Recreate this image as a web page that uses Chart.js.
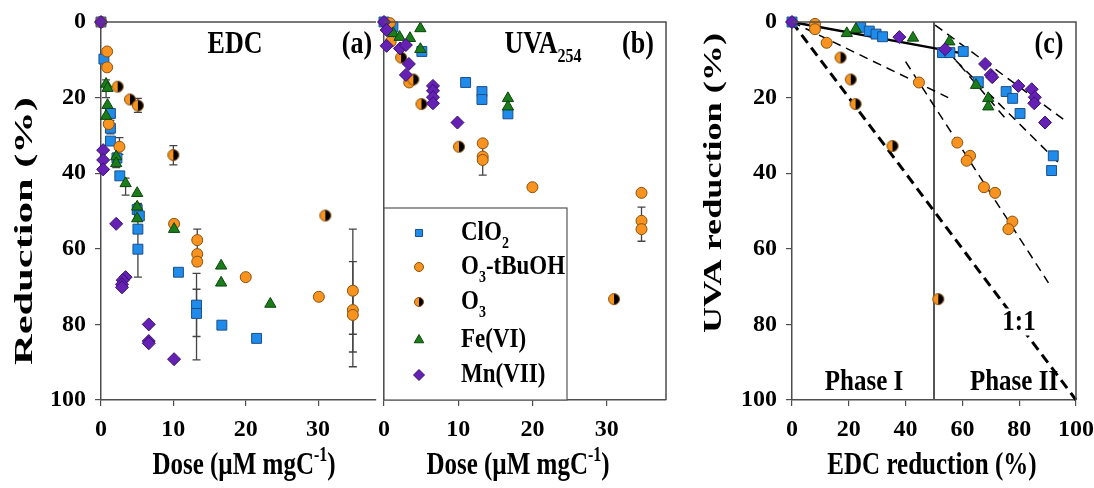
<!DOCTYPE html>
<html>
<head>
<meta charset="utf-8">
<script src="https://cdn.jsdelivr.net/npm/chart.js@4.4.0/dist/chart.umd.min.js"></script>
<style>
body{margin:0;background:#fff;}
#wrap{position:relative;width:1094px;height:488px;overflow:hidden;background:#fff;}
canvas{position:absolute;top:0;}
</style>
</head>
<body>
<div id="wrap">
	<canvas id="pa" width="384" height="488" style="left:0"></canvas>
	<canvas id="pb" width="300" height="488" style="left:374px"></canvas>
	<canvas id="pc" width="394" height="488" style="left:700px"></canvas>
</div>
<script>
'use strict';

// panel (a): EDC reduction vs dose
const aClO2 = [[0,0],[0.4,9.8],[1.3,24.2],[1.3,28.1],[1.3,31.5],[2.2,36],[2.6,40.7],[5.0,49.6],[5.3,51.3],[5.1,54.8],[5.1,60.1],[10.7,66.2],[13.2,74.9],[13.2,77.1],[16.7,80.2],[21.5,83.7]];
const aTBuOH = [[0,0],[0.85,7.8],[0.85,12],[1.07,27],[2.55,33],[10.1,53.4],[13.3,57.7],[13.3,61.4],[13.3,63.4],[20,67.5],[30.1,72.7],[34.8,71.1],[34.8,76.2],[34.8,77.5]];
const aO3 = [[2.3,17.1],[4.0,20.5],[5.1,22.1],[10.0,35.2],[31.0,51.2]];
const aFe = [[0.7,16.4],[0.9,17.5],[0.9,22],[0.7,24.9],[2.1,35.6],[2.1,37.4],[3.4,42.7],[5.0,45.3],[5.0,48.9],[5.0,52],[10.1,54.8],[16.6,64.5],[16.6,69],[23.4,74.6]];
const aMn = [[0,0],[0.3,33.9],[0.3,36.5],[0.3,39],[2.1,53.4],[3.4,67.5],[3.0,68.3],[2.9,69.4],[2.9,70.2],[6.6,80],[6.6,84.4],[6.6,85],[10.1,89.2]];
const aErr = [[0.7,15.3,20],[5.1,20.2,23.9],[10.0,32.7,37.8],[1.3,26,29.6],[2.55,30.6,35],[2.1,34.7,38.5],[3.4,41.3,45.8],[5.1,48,67.5],[13.3,54.8,64.5],[13.2,66.5,89.4],[13.2,70.7,83.2],[34.8,54.8,91.2],[34.8,63.4,87.3],[34.8,70,82.6]];

// panel (b): UVA254 reduction vs dose
const bClO2 = [[0,0],[1.2,1.3],[5.1,7.8],[11,16],[13.2,18.4],[13.2,20.5],[16.7,24.3]];
const bTBuOH = [[0.8,0.3],[0.9,5.2],[3.4,16],[13.3,32.1],[13.3,35.6],[13.3,36.5],[20,43.7],[34.7,45.2],[34.7,52.6],[34.7,54.8]];
const bO3 = [[2.3,9.4],[3.95,15.2],[5.05,21.7],[10.1,33],[31,73.3]];
const bFe = [[1.25,3],[2.1,4],[3.5,4.3],[4.9,1.7],[4.9,7.2],[16.7,20.2],[16.7,22.4]];
const bMn = [[0,0],[0.35,2.1],[0.35,6.3],[2.15,7],[2.95,6.1],[3.35,11.1],[2.95,14],[6.6,16.9],[6.6,18.2],[6.6,19.9],[6.6,21.5],[9.9,26.6]];
const bErr = [[13.3,32,40.5],[34.7,49,58]];

// panel (c): UVA reduction vs EDC reduction
const cClO2 = [[0,0],[24.2,1.4],[27.2,2.4],[29.6,3.2],[31.9,3.9],[53,8.1],[55.6,8.1],[60.3,7.8],[65.6,15.8],[75.4,18.4],[77.7,20.2],[80.3,24.2],[92,35.4],[91.4,39.3]];
const cTBuOH = [[8.1,0.5],[8.1,1.9],[12.2,5.5],[44.7,16],[58.2,31.9],[62.7,35.4],[61.5,36.7],[67.6,43.7],[71.5,45.2],[77.6,52.8],[76.2,54.8]];
const cO3 = [[17.1,9.4],[20.7,15.2],[22.4,21.7],[35.4,32.8],[51.5,73.3]];
const cFe = [[19.3,3.0],[22.5,1.9],[42.6,4.2],[55.4,5.2],[64.8,16.7],[69.1,20.2],[69.1,22.4]];
const cMn = [[0,0],[37.8,4.0],[53.9,7.2],[68,11.1],[70,14],[70.5,14.6],[79.7,16.9],[84.4,17.8],[85.5,19.9],[85.3,21.5],[89.1,26.6]];
const lineOneToOne = [[0,0],[100,100]];
const linePhase1 = [[0,0],[60,8.3]];
const lineLow = [[0,0],[55,20]];
const lineMn2 = [[50.4,0.8],[95.5,25.7]];
const lineClO2 = [[53.9,7.4],[95,38.1]];
const lineFe2 = [[55.6,8.3],[75.6,25.9]];
const lineOz2 = [[40,10.5],[90.3,69]];
const linePhaseSplit = [[50,0],[50,100]];

const doseTicks = [0,10,20,30];
const edcTicks = [0,20,40,60,80,100];

const BLUE = '#1f8bea', BLUE_E = '#1d4f8a';
const ORANGE = '#f7931e', ORANGE_E = '#8a5210';
const GREEN = '#1a7d1a', GREEN_E = '#0b450b';
const PURPLE = '#6421b4', PURPLE_E = '#3a1070';
const AXIS = '#4d4d4d';
const FONT = '"Liberation Serif", "Times New Roman", serif';

Chart.defaults.font.family = FONT;
Chart.defaults.color = '#000';

function halfMarker(r){
	const c = document.createElement('canvas');
	const s = Math.ceil(r * 2 + 3);
	c.width = c.height = s;
	const g = c.getContext('2d');
	const m = s / 2;
	g.beginPath(); g.arc(m, m, r, Math.PI / 2, Math.PI * 1.5); g.fillStyle = ORANGE; g.fill();
	g.beginPath(); g.arc(m, m, r, -Math.PI / 2, Math.PI / 2); g.fillStyle = '#000'; g.fill();
	g.beginPath(); g.arc(m, m, r, 0, Math.PI * 2); g.strokeStyle = ORANGE_E; g.lineWidth = 1; g.stroke();
	return c;
}
const halfBig = halfMarker(5.5);
const halfSmall = halfMarker(4.5);

// text with sub/superscripts, stretched like the original figure
function drawRich(ctx, parts, x, y, o){
	const size = o.size || 26;
	ctx.save();
	ctx.translate(x, y);
	if(o.rot){
		ctx.rotate(-Math.PI / 2);
	}
	const setFont = (p) => { ctx.font = `bold ${(p.sub || p.sup) ? Math.round(size * 0.62) : size}px ${FONT}`; };
	let w = 0;
	parts.forEach(p => { setFont(p); p.w = ctx.measureText(p.t).width; w += p.w; });
	let sx = o.sx || 1;
	if(o.len){
		sx = o.len / w;
	}
	ctx.scale(sx, o.sy || 1);
	let cx = o.align === 'left' ? 0 : -w / 2;
	if(o.bg){
		ctx.fillStyle = '#fff';
		ctx.fillRect(cx - 2, -size * 0.45, w + 4, size * 0.9);
	}
	ctx.textBaseline = 'middle';
	ctx.textAlign = 'left';
	ctx.fillStyle = '#000';
	parts.forEach(p => {
		setFont(p);
		const dy = p.sub ? size * 0.38 : (p.sup ? -size * 0.32 : 0);
		ctx.fillText(p.t, cx, dy);
		cx += p.w;
	});
	ctx.restore();
}

function markerSets(clo2, tbuoh, o3, fe, mn){
	const base = {showLine: false, clip: false, pointBorderWidth: 1};
	return [
		{...base, label: 'Mn(VII)', data: mn, order: 1, pointStyle: 'rectRot', pointRadius: 6.5, backgroundColor: PURPLE, borderColor: PURPLE_E},
		{...base, label: 'Fe(VI)', data: fe, order: 2, pointStyle: 'triangle', pointRadius: 6.5, backgroundColor: GREEN, borderColor: GREEN_E},
		{...base, label: 'O3', data: o3, order: 3, pointStyle: halfBig, pointRadius: 5.5, backgroundColor: ORANGE, borderColor: ORANGE_E},
		{...base, label: 'O3-tBuOH', data: tbuoh, order: 4, pointStyle: 'circle', pointRadius: 5.5, backgroundColor: ORANGE, borderColor: ORANGE_E},
		{...base, label: 'ClO2', data: clo2, order: 5, pointStyle: 'rect', pointRadius: 7, backgroundColor: BLUE, borderColor: BLUE_E}
	];
}

function lineSet(data, width, dash){
	return {data, showLine: true, clip: false, pointRadius: 0, borderColor: '#000', borderWidth: width, borderDash: dash, order: 10};
}

function yAxis(labels, width){
	return {
		type: 'linear', min: 0, max: 100, reverse: true,
		ticks: {display: labels, stepSize: 20, padding: 9, color: '#000', font: {size: 24, weight: 'bold'}},
		grid: {display: labels, drawOnChartArea: false, tickLength: 6, color: AXIS, lineWidth: 1.2},
		border: {color: AXIS, width: 1.5},
		afterFit(s){ s.width = width; s.paddingTop = 0; s.paddingBottom = 0; }
	};
}

function xAxis(max, ticks){
	return {
		type: 'linear', min: 0, max: max,
		afterBuildTicks(s){ s.ticks = ticks.map(v => ({value: v})); },
		ticks: {padding: 9, color: '#000', autoSkip: false, maxRotation: 0, font: {size: 24, weight: 'bold'}},
		grid: {drawOnChartArea: false, tickLength: 6, color: AXIS, lineWidth: 1.2},
		border: {color: AXIS, width: 1.5},
		afterFit(s){ s.height = 88; s.paddingLeft = 0; s.paddingRight = 0; }
	};
}

function errorBars(bars){
	return {
		id: 'errbars',
		beforeDatasetsDraw(chart){
			const {ctx, scales: {x, y}} = chart;
			ctx.save();
			ctx.strokeStyle = '#444';
			ctx.lineWidth = 1.3;
			bars.forEach(([v, lo, hi]) => {
				const px = x.getPixelForValue(v), p1 = y.getPixelForValue(lo), p2 = y.getPixelForValue(hi);
				ctx.beginPath();
				ctx.moveTo(px, p1); ctx.lineTo(px, p2);
				ctx.moveTo(px - 4, p1); ctx.lineTo(px + 4, p1);
				ctx.moveTo(px - 4, p2); ctx.lineTo(px + 4, p2);
				ctx.stroke();
			});
			ctx.restore();
		}
	};
}

function frame(ctx, a, right){
	ctx.save();
	ctx.strokeStyle = AXIS;
	ctx.lineWidth = 1.5;
	ctx.beginPath();
	ctx.moveTo(a.left, a.top); ctx.lineTo(a.right, a.top);
	if(right){
		ctx.lineTo(a.right, a.bottom);
	}
	ctx.stroke();
	ctx.restore();
}

const doseTitle = () => [{t: 'Dose (\u00b5M mgC'}, {t: '-1', sup: true}, {t: ')'}];

function makeChart(id, datasets, scales, padding, plugins){
	return new Chart(document.getElementById(id), {
		type: 'scatter',
		data: {datasets},
		options: {
			responsive: false,
			devicePixelRatio: 1,
			animation: false,
			layout: {padding},
			plugins: {legend: {display: false}, tooltip: {enabled: false}},
			scales
		},
		plugins
	});
}

// (a)
makeChart('pa', markerSets(aClO2, aTBuOH, aO3, aFe, aMn),
	{x: xAxis(38, doseTicks), y: yAxis(true, 101)},
	{left: 0, right: 0, top: 22, bottom: 0},
	[errorBars(aErr), {id: 'decorA', afterDraw(chart){
		const ctx = chart.ctx;
		frame(ctx, chart.chartArea, false);
		drawRich(ctx, [{t: 'Reduction (%)'}], 25, 231, {size: 26, rot: true, len: 268});
		drawRich(ctx, [{t: 'EDC'}], 235, 45, {size: 26, sy: 1.2});
		drawRich(ctx, [{t: '(a)'}], 357, 45, {size: 26, sy: 1.2});
		drawRich(ctx, doseTitle(), 244, 466, {size: 25, sy: 1.25});
	}}]);

// (b)
makeChart('pb', markerSets(bClO2, bTBuOH, bO3, bFe, bMn),
	{x: xAxis(38, doseTicks), y: yAxis(false, 0)},
	{left: 10, right: 7, top: 22, bottom: 0},
	[errorBars(bErr), {id: 'decorB', afterDraw(chart){
		const ctx = chart.ctx;
		const off = 374;
		frame(ctx, chart.chartArea, true);
		drawRich(ctx, [{t: 'UVA'}, {t: '254', sub: true}], 543 - off, 45, {size: 26, sy: 1.2});
		drawRich(ctx, [{t: '(b)'}], 638 - off, 45, {size: 26, sy: 1.2});
		drawRich(ctx, doseTitle(), 518 - off, 466, {size: 25, sy: 1.25});
		// legend box
		ctx.save();
		ctx.fillStyle = '#fff';
		ctx.strokeStyle = '#555';
		ctx.lineWidth = 1.2;
		ctx.fillRect(384 - off, 208, 183, 192);
		ctx.strokeRect(384 - off, 208, 183, 192);
		ctx.restore();
		const entries = [
			{parts: [{t: 'ClO'}, {t: '2', sub: true}], style: 'rect', r: 5, fill: BLUE, edge: BLUE_E, y: 233},
			{parts: [{t: 'O'}, {t: '3', sub: true}, {t: '-tBuOH'}], style: 'circle', r: 4.5, fill: ORANGE, edge: ORANGE_E, y: 267},
			{parts: [{t: 'O'}, {t: '3', sub: true}], style: halfSmall, r: 4.5, fill: ORANGE, edge: ORANGE_E, y: 302},
			{parts: [{t: 'Fe(VI)'}], style: 'triangle', r: 5.5, fill: GREEN, edge: GREEN_E, y: 340},
			{parts: [{t: 'Mn(VII)'}], style: 'rectRot', r: 5.5, fill: PURPLE, edge: PURPLE_E, y: 375}
		];
		entries.forEach(e => {
			ctx.save();
			ctx.fillStyle = e.fill;
			ctx.strokeStyle = e.edge;
			ctx.lineWidth = 1;
			Chart.helpers.drawPoint(ctx, {pointStyle: e.style, radius: e.r, rotation: 0, borderWidth: 1}, 419 - off, e.y);
			ctx.restore();
			drawRich(ctx, e.parts, 461 - off, e.y, {size: 23, sy: 1.2, align: 'left'});
		});
	}}]);

// (c)
makeChart('pc', [
		...markerSets(cClO2, cTBuOH, cO3, cFe, cMn),
		lineSet(lineOneToOne, 3, [10, 6]),
		lineSet(linePhase1, 2.5, []),
		lineSet(lineLow, 1.5, [9, 6]),
		lineSet(lineMn2, 1.5, [9, 6]),
		lineSet(lineClO2, 1.5, [9, 6]),
		lineSet(lineFe2, 1.5, [9, 6]),
		lineSet(lineOz2, 1.5, [9, 6]),
		{...lineSet(linePhaseSplit, 2, []), borderColor: '#555'}
	],
	{x: xAxis(100, edcTicks), y: yAxis(true, 92)},
	{left: 0, right: 18, top: 22, bottom: 0},
	[{id: 'decorC', afterDraw(chart){
		const ctx = chart.ctx;
		const off = 700;
		frame(ctx, chart.chartArea, true);
		drawRich(ctx, [{t: 'UVA reduction (%)'}], 714 - off, 183, {size: 26, rot: true, len: 300});
		drawRich(ctx, [{t: '(c)'}], 1049 - off, 45, {size: 26, sy: 1.2});
		drawRich(ctx, [{t: 'Phase I'}], 864 - off, 382, {size: 25, sy: 1.2});
		drawRich(ctx, [{t: 'Phase II'}], 1014 - off, 382, {size: 25, sy: 1.2});
		drawRich(ctx, [{t: '1:1'}], 1019 - off, 322, {size: 25, sy: 1.2, bg: true});
		drawRich(ctx, [{t: 'EDC reduction (%)'}], 932 - off, 466, {size: 25, sy: 1.25});
	}}]);
</script>
</body>
</html>
